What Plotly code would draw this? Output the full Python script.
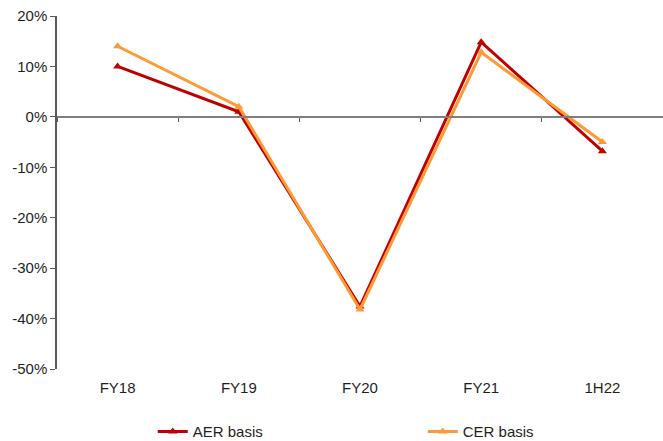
import plotly.graph_objects as go

# Year-on-year growth by period, in percent
periods = ["FY18", "FY19", "FY20", "FY21", "1H22"]
aer_basis = [10.0, 1.0, -37.6, 14.8, -6.8]
cer_basis = [14.0, 2.0, -38.2, 12.8, -5.0]

y_tick_values = [20, 10, 0, -10, -20, -30, -40, -50]
y_tick_labels = ["20%", "10%", "0%", "-10%", "-20%", "-30%", "-40%", "-50%"]

y_min, y_max = -50, 20
font_main = dict(family="Liberation Sans, Arial, sans-serif", size=15, color="#1f1f1f")

fig = go.Figure()

fig.add_trace(go.Scatter(
    x=periods, y=aer_basis, name="AER basis", mode="lines+markers",
    line=dict(color="#C00000", width=3),
    marker=dict(symbol="triangle-up", size=8, color="#C00000"),
))
fig.add_trace(go.Scatter(
    x=periods, y=cer_basis, name="CER basis", mode="lines+markers",
    line=dict(color="#FF9933", width=3),
    marker=dict(symbol="triangle-up", size=8, color="#FF9933"),
))
# carrier for the category axis drawn through zero
fig.add_trace(go.Scatter(
    x=periods, y=[None] * len(periods), xaxis="x2", showlegend=False,
    hoverinfo="skip", mode="lines",
))

fig.update_layout(
    width=663, height=441,
    margin=dict(l=57, r=0, t=16, b=72, autoexpand=False),
    plot_bgcolor="white", paper_bgcolor="white",
    font=font_main,
    showlegend=True,
    legend=dict(
        orientation="h", x=0.158, xanchor="left", y=-0.178, yanchor="middle",
        entrywidth=225, font=font_main,
        bgcolor="rgba(0,0,0,0)",
    ),
    xaxis=dict(
        type="category", categoryorder="array", categoryarray=periods,
        range=[-0.5, len(periods) - 0.5],
        showline=False, showgrid=False, zeroline=False,
        ticks="outside", ticklen=5, tickcolor="rgba(0,0,0,0)",
        tickfont=font_main,
    ),
    xaxis2=dict(
        type="category", categoryorder="array", categoryarray=periods,
        range=[-0.5, len(periods) - 0.5],
        overlaying="x", anchor="free", position=(0 - y_min) / (y_max - y_min),
        showline=True, linecolor="#7f7f7f", linewidth=2,
        ticks="outside", tickson="boundaries", ticklen=4, tickwidth=1, tickcolor="#595959",
        showticklabels=False, showgrid=False, zeroline=False,
    ),
    yaxis=dict(
        range=[y_min, y_max], tickvals=y_tick_values, ticktext=y_tick_labels,
        showline=True, linecolor="#595959", linewidth=1.5,
        ticks="outside", ticklen=5, tickcolor="#595959",
        showgrid=False, zeroline=False, tickfont=font_main,
    ),
)

fig.write_html("out.html")
